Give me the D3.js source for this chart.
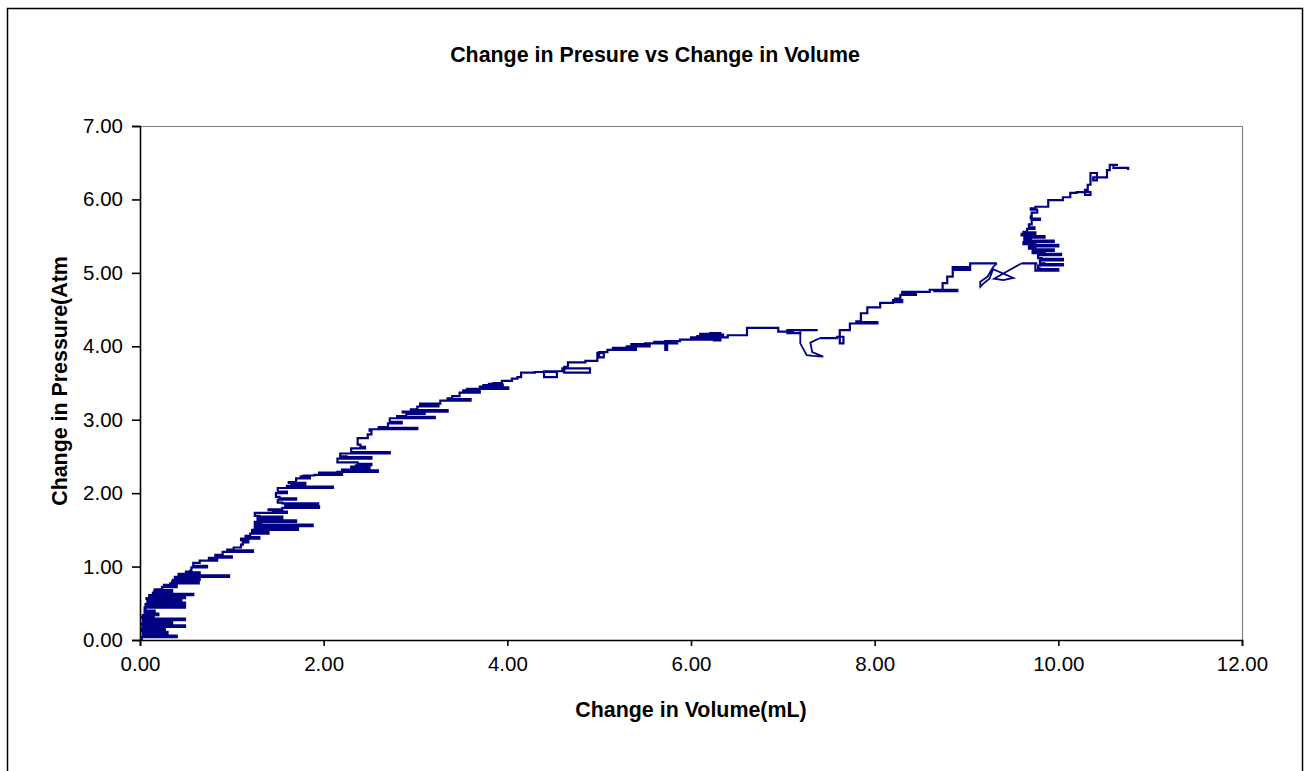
<!DOCTYPE html>
<html>
<head>
<meta charset="utf-8">
<script src="https://cdn.jsdelivr.net/npm/d3@7/dist/d3.min.js"></script>
<style>
  html, body { margin: 0; padding: 0; background: #fff; }
  svg { display: block; }
  text { font-family: "Liberation Sans", Arial, sans-serif; }
</style>
</head>
<body>
<svg id="chart" width="1308" height="771"></svg>
<script>
const chartTitle = "Change in Presure vs Change in Volume";
const xLabel = "Change in Volume(mL)";
const yLabel = "Change in Pressure(Atm";
const xTicks = [0, 2, 4, 6, 8, 10, 12];
const yTicks = [0, 1, 2, 3, 4, 5, 6, 7];

// [change in volume (mL), change in pressure (atm)]
const segStart = [
  [0,0],[0.02,0.04],[0.40,0.06],[0.05,0.07],[0.03,0.09],[0.30,0.11],[0.10,0.12],[0.02,0.13],
  [0.27,0.15],[0.02,0.16],[0.03,0.18],[0.49,0.20],[0.08,0.21],[0.02,0.22],[0.35,0.24],[0.05,0.25],
  [0.03,0.27],[0.49,0.29],[0.10,0.30],[0.02,0.31],[0.15,0.33],[0.03,0.34],[0.20,0.36],[0.05,0.38],
  [0.16,0.40],[0.06,0.41],[0.05,0.44],[0.49,0.46],[0.10,0.47],[0.06,0.49],[0.49,0.51],[0.12,0.52],
  [0.08,0.53],[0.45,0.55],[0.10,0.56],[0.07,0.57],[0.49,0.59],[0.12,0.60],[0.10,0.61],[0.58,0.63],
  [0.14,0.64],[0.15,0.66],[0.35,0.68],[0.16,0.69],[0.24,0.72],[0.40,0.74],[0.26,0.75],[0.33,0.77],
  [0.64,0.79],[0.35,0.80],[0.36,0.82],[0.65,0.84],[0.40,0.85],[0.38,0.86],[0.97,0.88],[0.45,0.89],
  [0.42,0.90],[0.65,0.92],[0.50,0.93]
];
const segLower = [
  [0.55,0.95],[0.56,0.99],[0.73,1.01],[0.58,1.05],[0.65,1.08],[0.84,1.10],[0.75,1.12],[1.00,1.14],
  [0.82,1.16],[0.90,1.20],[1.23,1.22],[0.95,1.23],[1.02,1.26],[1.10,1.30],[1.12,1.33],[1.18,1.36],
  [1.10,1.38],[1.30,1.40],[1.15,1.42],[1.20,1.45],[1.40,1.47],[1.22,1.48],[1.22,1.50],[1.72,1.52],
  [1.30,1.53],[1.25,1.55],[1.88,1.57],[1.32,1.58],[1.25,1.61],[1.70,1.63],[1.35,1.64],[1.28,1.66],
  [1.55,1.68],[1.30,1.69],[1.25,1.73],[1.60,1.75],[1.45,1.76],[1.55,1.77],[1.40,1.78],[1.55,1.80],
  [1.95,1.82],[1.58,1.83],[1.60,1.84],[1.94,1.86],[1.55,1.87],[1.50,1.91],[1.70,1.93],[1.52,1.95],
  [1.48,2.00],[1.60,2.02],[1.50,2.04],[1.50,2.07],[2.10,2.09],[1.60,2.10],[1.65,2.12],[1.80,2.14],
  [1.62,2.15],[1.70,2.20],[1.85,2.22],[1.75,2.23]
];
const segMiddle = [
  [1.78,2.24],[1.90,2.25],[2.20,2.27],[1.95,2.28],[2.15,2.29],[2.59,2.31],[2.20,2.32],[2.30,2.33],
  [2.50,2.35],[2.30,2.36],[2.35,2.38],[2.52,2.40],[2.37,2.42],[2.15,2.47],[2.52,2.49],[2.25,2.50],
  [2.18,2.54],[2.72,2.56],[2.30,2.57],[2.30,2.61],[2.45,2.63],[2.40,2.66],[2.37,2.75],[2.48,2.80],
  [2.52,2.85],[2.50,2.87],[3.02,2.89],[2.60,2.90],[2.70,2.95],[2.85,2.97],[2.72,3.00],[2.72,3.02],
  [3.21,3.04],[2.80,3.05],[2.90,3.08],[3.10,3.10],[2.86,3.11],[3.35,3.13],[2.95,3.14],[3.02,3.18],
  [3.25,3.20],[3.05,3.22]
];
const segPlateau = [
  [3.27,3.26],[3.60,3.28],[3.35,3.29],[3.40,3.32],[3.48,3.37],[3.70,3.39],[3.52,3.40],[3.56,3.42],
  [4.01,3.44],[3.70,3.45],[3.74,3.47],[3.95,3.48],[3.80,3.49],[3.85,3.50],[3.94,3.53],[4.05,3.56],
  [4.11,3.58],[4.15,3.64],[4.30,3.65],[4.54,3.58],[4.40,3.66],[4.60,3.70],[4.90,3.64],[4.62,3.72],
  [4.66,3.78],[4.85,3.80],[4.98,3.91],[5.05,3.85],[5.00,3.92],[5.09,3.95],[5.40,3.97],[5.15,3.98],
  [5.30,4.00],[5.55,4.02],[5.35,4.03],[5.50,4.04],[5.85,4.05],[5.60,4.06],[5.70,4.06],[5.74,3.95],
  [5.72,4.07],[5.88,4.09],[6.30,4.11],[6.00,4.12],[6.07,4.14],[6.35,4.16],[6.10,4.17],[6.21,4.18],
  [6.32,4.08],[6.25,4.12],[6.40,4.15],[6.61,4.25],[6.89,4.25],[6.95,4.20],[7.11,4.18],[7.20,4.18],
  [7.05,4.22],[7.38,4.22],[7.19,4.20]
];
const segDip = [
  [7.19,4.20],[7.19,4.04],[7.26,3.88],[7.33,3.87],[7.44,3.86],[7.32,3.92],[7.30,4.05],[7.40,4.11]
];
const segClimb = [
  [7.40,4.11],[7.59,4.13],[7.66,4.04],[7.62,4.15],[7.62,4.22],[7.73,4.31],[8.03,4.33],[7.80,4.34],
  [7.85,4.45],[7.92,4.53],[8.06,4.59],[8.20,4.63],[8.30,4.60],[8.22,4.65],[8.28,4.70],[8.45,4.72],
  [8.30,4.74],[8.60,4.77],[8.90,4.75],[8.65,4.76],[8.74,4.86],[8.79,4.95],[8.85,5.04],[9.04,5.06],
  [8.85,5.08],[9.04,5.13],[9.33,5.13]
];
const segLoop = [
  [9.33,5.13],[9.29,5.08],[9.23,4.95],[9.15,4.88],[9.15,4.81],[9.18,4.85],[9.25,4.92],[9.29,5.05],
  [9.51,4.93],[9.40,4.90],[9.30,4.92],[9.60,5.13]
];
const segTop = [
  [9.60,5.13],[9.77,5.13],[9.75,5.03],[10.00,5.05],[9.80,5.06],[9.78,5.10],[10.05,5.12],[9.85,5.13],
  [9.80,5.17],[10.05,5.19],[9.82,5.20],[9.78,5.24],[10.03,5.26],[9.85,5.27],[9.72,5.30],[9.95,5.32],
  [9.75,5.33],[9.68,5.36],[10.00,5.38],[9.75,5.39],[9.62,5.42],[9.95,5.44],[9.70,5.45],[9.63,5.48],
  [9.85,5.50],[9.66,5.51],[9.60,5.53],[9.75,5.55],[9.62,5.56],[9.66,5.60],[9.74,5.62],[9.68,5.66],
  [9.71,5.72],[9.80,5.74],[9.70,5.77],[9.71,5.82],[9.77,5.86],[9.70,5.88],[9.75,5.90],[9.89,5.99],
  [10.05,6.03],[10.13,6.09],[10.20,6.10],[10.35,6.06],[10.29,6.13],[10.32,6.20],[10.35,6.36],[10.42,6.26],
  [10.38,6.30],[10.53,6.40],[10.56,6.47],[10.65,6.47],[10.60,6.43],[10.76,6.40]
];

// stepped recorder segments vs. smooth excursions
const steppedParts = [[].concat(segStart, segLower, segMiddle, segPlateau), segClimb, segTop];
const smoothParts = [segDip, segLoop];

const svg = d3.select("#chart");
const plot = { left: 140, right: 1242, top: 126, bottom: 640 };

// outer chart border
svg.append("rect")
  .attr("x", 7.5).attr("y", 8.5)
  .attr("width", 1295).attr("height", 790)
  .attr("fill", "#fff").attr("stroke", "#000").attr("stroke-width", 1.5);

const x = d3.scaleLinear().domain([0, 12]).range([plot.left, plot.right]);
const y = d3.scaleLinear().domain([0, 7]).range([plot.bottom, plot.top]);

// plot area frame (top and right in grey)
svg.append("path")
  .attr("d", `M${plot.left},${plot.top + 0.5}H${plot.right + 0.5}V${plot.bottom}`)
  .attr("fill", "none").attr("stroke", "#808080").attr("stroke-width", 1.2);

const stepLine = d3.line().x(d => x(d[0])).y(d => y(d[1])).curve(d3.curveStepAfter);
const smoothLine = d3.line().x(d => x(d[0])).y(d => y(d[1]));

const traceG = svg.append("g")
  .attr("fill", "none")
  .attr("stroke", "#000080")
  .attr("stroke-width", 2.2)
  .attr("stroke-linejoin", "miter");

traceG.selectAll("path.step").data(steppedParts).join("path")
  .attr("class", "step").attr("d", stepLine);
traceG.selectAll("path.smooth").data(smoothParts).join("path")
  .attr("class", "smooth").attr("d", smoothLine).attr("stroke-width", 1.8);

// axes
const xAxis = d3.axisBottom(x).tickValues(xTicks).tickFormat(d3.format(".2f")).tickSizeOuter(0).tickSize(6).tickPadding(10);
const yAxis = d3.axisLeft(y).tickValues(yTicks).tickFormat(d3.format(".2f")).tickSizeOuter(0).tickSize(8).tickPadding(9);

const gx = svg.append("g").attr("transform", `translate(0,${plot.bottom})`).call(xAxis);
const gy = svg.append("g").attr("transform", `translate(${plot.left},0)`).call(yAxis);

[gx, gy].forEach(g => {
  g.select(".domain").attr("stroke", "#000").attr("stroke-width", 1.6);
  g.selectAll(".tick line").attr("stroke", "#000").attr("stroke-width", 1.6);
  g.selectAll(".tick text")
    .attr("fill", "#000")
    .style("font-family", '"Liberation Sans", Arial, sans-serif')
    .style("font-size", "20.5px");
});

// title
svg.append("text")
  .attr("x", 655).attr("y", 62)
  .attr("text-anchor", "middle")
  .style("font-size", "21.4px").style("font-weight", "bold")
  .text(chartTitle);

// x label
svg.append("text")
  .attr("x", (plot.left + plot.right) / 2).attr("y", 717)
  .attr("text-anchor", "middle")
  .style("font-size", "21.4px").style("font-weight", "bold")
  .text(xLabel);

// y label
svg.append("text")
  .attr("transform", `translate(67,${(plot.top + plot.bottom) / 2 - 2}) rotate(-90)`)
  .attr("text-anchor", "middle")
  .style("font-size", "21.4px").style("font-weight", "bold")
  .text(yLabel);
</script>
</body>
</html>
